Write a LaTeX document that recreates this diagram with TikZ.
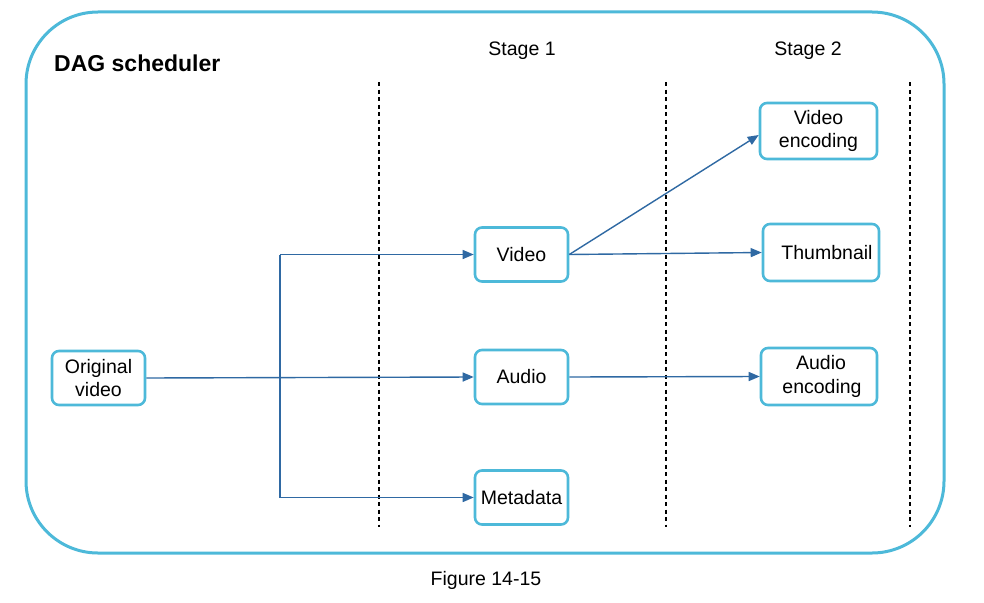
\documentclass[tikz,border=0pt]{standalone}
\usepackage{fontspec}
\setmainfont{Liberation Sans}
\usetikzlibrary{arrows.meta}
\definecolor{frameblue}{HTML}{4DB9D9}
\definecolor{flowblue}{HTML}{2F69A3}
\begin{document}
\begin{tikzpicture}[x=1pt,y=-1pt,
  task/.style={draw=frameblue, line width=2.6pt, rounded corners=7pt, fill=white,
    minimum width=#1, minimum height=54pt, inner sep=0pt, align=center,
    font=\fontsize{19.5}{23.5}\selectfont},
  task/.default=93pt,
  flow/.style={draw=flowblue, line width=1.4pt},
  arr/.style={flow, -{Triangle[length=11pt,width=9pt]}},
  stageline/.style={draw=black, line width=1.2pt, dash pattern=on 4pt off 3.5pt},
  label/.style={font=\fontsize{19.5}{23}\selectfont, inner sep=0pt}]
\useasboundingbox (0,0) rectangle (984,602);
\fill[white] (0,0) rectangle (984,602);

% scheduler frame
\draw[frameblue, line width=3pt, rounded corners=72pt] (26,12) rectangle (944,553);
\node[font=\fontsize{23}{26}\bfseries\selectfont, anchor=west, inner sep=0pt] (title) at (54,63) {DAG scheduler};

% stage boundaries
\coordinate (b0t) at (379,82);  \coordinate (b0b) at (379,527);
\coordinate (b1t) at (666,82);  \coordinate (b1b) at (666,527);
\coordinate (b2t) at (910,82);  \coordinate (b2b) at (910,527);
\draw[stageline] (b0t) -- (b0b);
\draw[stageline] (b1t) -- (b1b);
\draw[stageline] (b2t) -- (b2b);

\node[label] (stage1) at (522,51) {Stage 1};
\node[label] (stage2) at (808,51) {Stage 2};

% tasks
\node[task] (orig) at (98.5,378) {\raisebox{-1.5pt}{Original}\\\raisebox{-1.5pt}{video}};
\node[task] (video) at (521.5,254.5) {Video};
\node[task] (audio) at (521.5,377) {Audio};
\node[task] (meta) at (521.5,497.5) {Metadata};
\node[task=117pt, minimum height=56pt] (venc) at (818.5,131) {Video\\encoding};
\node[task=116pt, minimum height=57pt] (thumb) at (821,252.5) {\hspace*{12pt}Thumbnail};
\node[task=116pt, minimum height=57pt] (aenc) at (819,376.5) {\hspace*{4pt}\raisebox{-3pt}{Audio}\\\hspace*{6pt}\raisebox{-3pt}{encoding}};

% dependencies
\coordinate (split) at (280,378);
\draw[arr] (orig.east) -- (audio.west);
\draw[flow] (split |- video.west) -- (split |- meta.west);
\draw[arr] (split |- video.west) -- (video.west);
\draw[arr] (split |- meta.west) -- (meta.west);
\draw[arr] (video.east) -- ([yshift=-2pt]venc.west |- 0,133) ;
\draw[arr] (video.east) -- (thumb.west);
\draw[arr] (audio.east) -- (aenc.west);

\node[label] (caption) at (486,580) {Figure 14-15};
\end{tikzpicture}
\end{document}
